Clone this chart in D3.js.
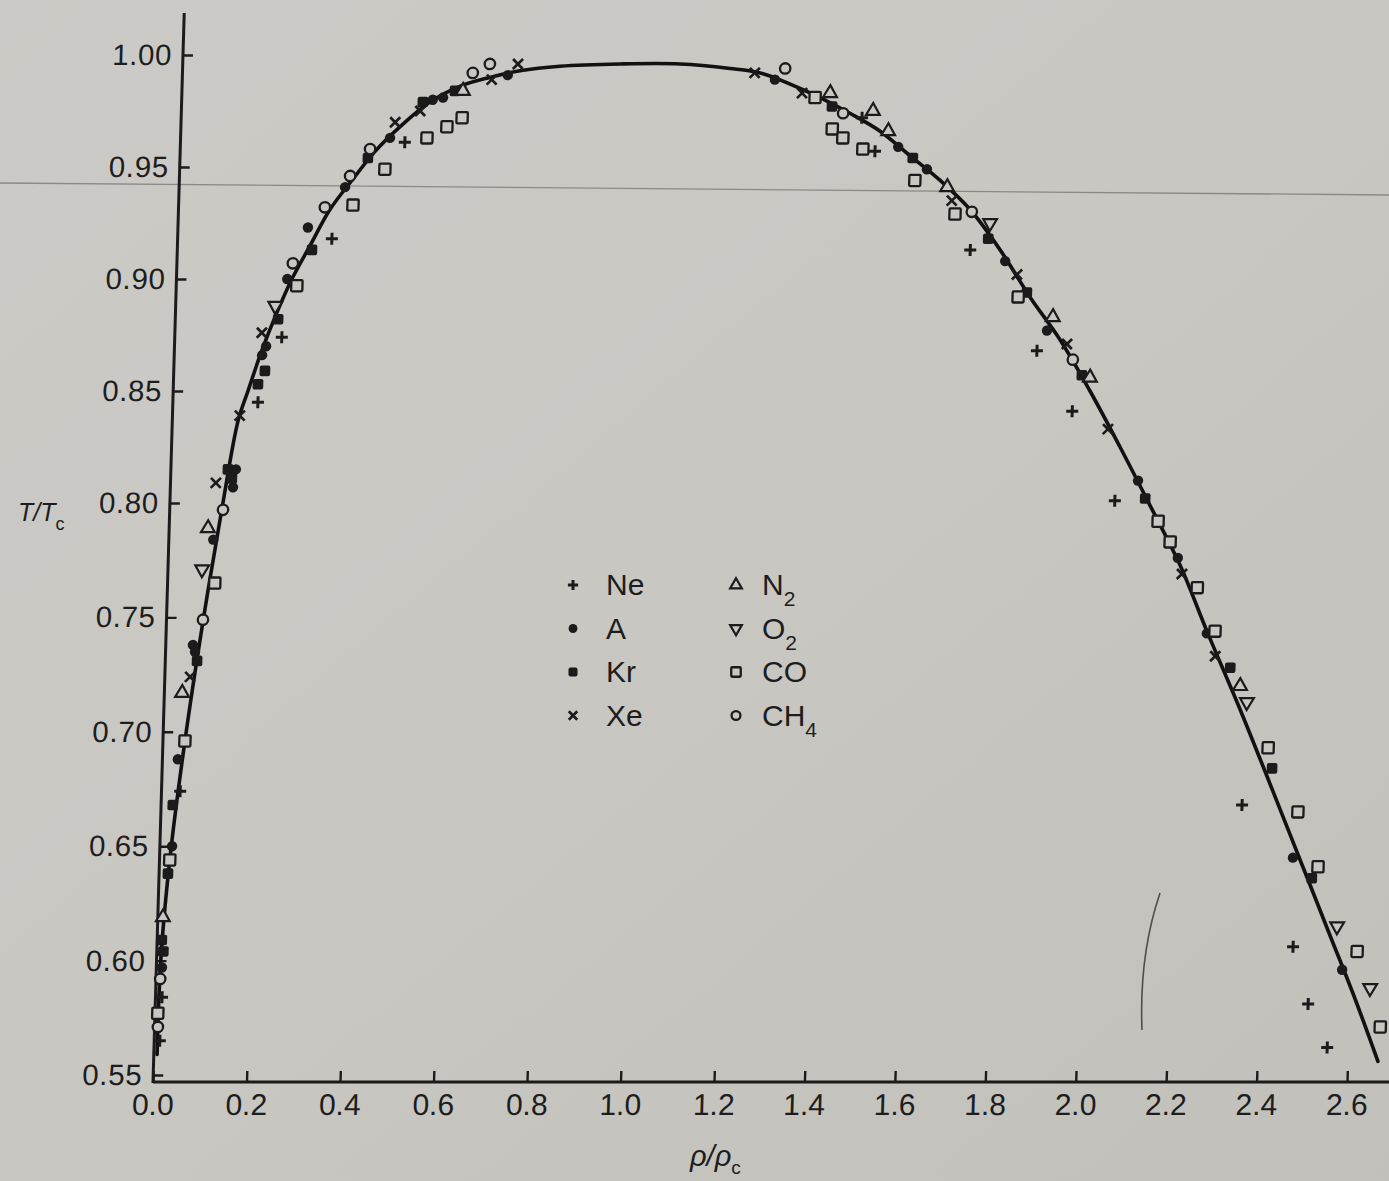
<!DOCTYPE html>
<html>
<head>
<meta charset="utf-8">
<script src="https://cdn.jsdelivr.net/npm/d3@7"></script>
<style>
  html, body { margin: 0; padding: 0; background: #c8c7c2; }
  svg { display: block; }
  text { font-family: "Liberation Sans", Arial, Helvetica, sans-serif; fill: #1d1d1d; }
</style>
</head>
<body>
<svg id="chart" width="1389" height="1181"></svg>
<script>
// Reduced coexistence curve: T/Tc against rho/rho_c for eight simple substances.

const xTicks = [0.0, 0.2, 0.4, 0.6, 0.8, 1.0, 1.2, 1.4, 1.6, 1.8, 2.0, 2.2, 2.4, 2.6];
const yTicks = [0.55, 0.60, 0.65, 0.70, 0.75, 0.80, 0.85, 0.90, 0.95, 1.00];

// Smooth fitted curve through all substances, [rho/rho_c, T/Tc]
const fitCurve = [
  [0.007,0.559],[0.009,0.600],[0.022,0.644],[0.047,0.696],[0.078,0.748],[0.112,0.798],
  [0.141,0.837],[0.160,0.850],[0.187,0.868],[0.215,0.884],[0.247,0.900],[0.284,0.915],
  [0.324,0.931],[0.369,0.944],[0.417,0.957],[0.469,0.968],[0.531,0.979],[0.594,0.986],
  [0.658,0.990],[0.722,0.993],[0.807,0.995],[0.935,0.996],[1.064,0.996],[1.171,0.994],
  [1.237,0.992],[1.304,0.987],[1.371,0.981],[1.438,0.974],[1.506,0.966],[1.574,0.955],
  [1.642,0.944],[1.710,0.931],[1.779,0.913],[1.848,0.892],[1.917,0.873],[1.987,0.850],
  [2.057,0.825],[2.127,0.799],[2.197,0.773],[2.261,0.744],[2.339,0.710],[2.411,0.677],
  [2.482,0.644],[2.553,0.611],[2.613,0.583],[2.667,0.556]
];

// Measured points, [rho/rho_c, T/Tc]
const neon = [
  [0.012,0.565],[0.014,0.584],[0.040,0.674],[0.182,0.845],[0.229,0.874],[0.330,0.918],[0.480,0.961],
  [1.465,0.972],[1.496,0.957],[1.713,0.913],[1.867,0.868],[1.949,0.841],[2.049,0.801],
  [2.350,0.668],[2.472,0.606],[2.509,0.581],[2.554,0.562]
];
const argon = [
  [0.012,0.597],[0.026,0.650],[0.033,0.688],[0.058,0.738],[0.063,0.735],[0.095,0.784],[0.134,0.807],
  [0.139,0.815],[0.188,0.866],[0.196,0.870],[0.237,0.900],[0.278,0.923],[0.355,0.941],[0.448,0.963],
  [0.537,0.980],[0.559,0.981],[0.696,0.991],
  [1.270,0.989],[1.547,0.959],[1.612,0.949],[1.791,0.908],[1.888,0.877],[2.099,0.810],
  [2.192,0.776],[2.261,0.743],[2.466,0.645],[2.582,0.596]
];
const krypton = [
  [0.010,0.609],[0.014,0.604],[0.019,0.638],[0.025,0.668],[0.068,0.731],[0.122,0.815],[0.131,0.811],
  [0.181,0.853],[0.195,0.859],[0.220,0.882],[0.288,0.913],[0.402,0.954],[0.516,0.979],[0.584,0.984],
  [1.398,0.977],[1.580,0.954],[1.752,0.918],[1.841,0.894],[1.968,0.857],[2.116,0.802],
  [2.315,0.728],[2.414,0.684],[2.509,0.636]
];
const xenon = [
  [0.054,0.724],[0.097,0.809],[0.144,0.839],[0.186,0.876],[0.458,0.970],[0.511,0.975],
  [0.662,0.989],[0.717,0.996],
  [1.225,0.992],[1.331,0.983],[1.669,0.935],[1.818,0.902],[1.933,0.871],[2.029,0.833],
  [2.202,0.769],[2.281,0.733]
];
const nitrogen = [
  [0.011,0.619],[0.038,0.717],[0.083,0.789],[0.601,0.984],
  [1.393,0.983],[1.489,0.975],[1.524,0.966],[1.658,0.941],[1.900,0.883],[1.986,0.856],[2.338,0.720]
];
const oxygen = [
  [0.073,0.771],[0.213,0.888],
  [1.755,0.925],[2.354,0.713],[2.568,0.615],[2.645,0.588]
];
const carbonMonoxide = [
  [0.006,0.577],[0.022,0.644],[0.047,0.696],[0.101,0.765],[0.258,0.897],[0.373,0.933],
  [0.439,0.949],[0.527,0.963],[0.569,0.968],[0.601,0.972],
  [1.360,0.981],[1.400,0.967],[1.424,0.963],[1.469,0.958],[1.586,0.944],[1.677,0.929],
  [1.822,0.892],[2.146,0.792],[2.174,0.783],[2.237,0.763],[2.279,0.744],[2.404,0.693],
  [2.474,0.665],[2.522,0.641],[2.614,0.604],[2.670,0.571]
];
const methane = [
  [0.007,0.571],[0.009,0.592],[0.078,0.749],[0.114,0.797],[0.248,0.907],[0.313,0.932],
  [0.365,0.946],[0.406,0.958],[0.621,0.992],[0.657,0.996],
  [1.292,0.994],[1.423,0.974],[1.714,0.930],[1.947,0.864]
];

const substances = [
  { label: "Ne", sub: "",  marker: "plus",   data: neon },
  { label: "A",  sub: "",  marker: "dot",    data: argon },
  { label: "Kr", sub: "",  marker: "block",  data: krypton },
  { label: "Xe", sub: "",  marker: "cross",  data: xenon },
  { label: "N",  sub: "2", marker: "triUp",  data: nitrogen },
  { label: "O",  sub: "2", marker: "triDown",data: oxygen },
  { label: "CO", sub: "",  marker: "square", data: carbonMonoxide },
  { label: "CH", sub: "4", marker: "ring",   data: methane }
];

const W = 1389, H = 1181;
const ink = "#1b1b1b";
const paper = "#c8c7c2";

const svg = d3.select("#chart");

// paper background
const defs = svg.append("defs");
const grad = defs.append("linearGradient").attr("id", "paperGrad")
  .attr("x1", "0").attr("y1", "0").attr("x2", "1").attr("y2", "1");
grad.append("stop").attr("offset", "0").attr("stop-color", "#cbcac6");
grad.append("stop").attr("offset", "0.5").attr("stop-color", "#c8c7c2");
grad.append("stop").attr("offset", "1").attr("stop-color", "#c1c0bb");
svg.append("rect").attr("width", W).attr("height", H).attr("fill", "url(#paperGrad)");

// faint ruled line and pencil stroke on the page
svg.append("path").attr("d", "M0,183 L1389,195")
  .attr("stroke", "#6f6f6b").attr("stroke-width", 1.3).attr("fill", "none").attr("opacity", 0.7);
svg.append("path").attr("d", "M1160,893 Q1139,955 1142,1030")
  .attr("stroke", "#4e4e4c").attr("stroke-width", 1.6).attr("fill", "none");

// scales
const x = d3.scaleLinear().domain([0, 1.2, 2.6]).range([153, 714, 1347]);
const y = d3.scaleLinear().domain([0.55, 0.80, 1.00]).range([1075, 503, 55]);
const baseY = 1082;   // horizontal axis line
const topY = 13;      // top of vertical axis line

// the printed figure leans slightly: a small shear about the horizontal axis
const lean = 0.0292;
const plot = svg.append("g")
  .attr("transform", `translate(${lean * baseY},0) skewX(${-Math.atan(lean) * 180 / Math.PI})`);

// axes
const tickFont = "'Liberation Sans', Arial, sans-serif";
const xAxis = d3.axisBottom(x).tickValues(xTicks).tickFormat(d3.format(".1f"))
  .tickSizeInner(-11).tickSizeOuter(0).tickPadding(12);
const gx = plot.append("g").attr("transform", `translate(0,${baseY})`).call(xAxis);
gx.select(".domain").remove();
gx.selectAll(".tick line").attr("stroke", ink).attr("stroke-width", 2.4);
gx.selectAll(".tick text").attr("font-size", 30).attr("fill", "#1d1d1d").attr("font-family", tickFont);

const yAxis = d3.axisLeft(y).tickValues(yTicks).tickFormat(d3.format(".2f"))
  .tickSizeInner(-10).tickSizeOuter(0).tickPadding(11);
const gy = plot.append("g").attr("transform", `translate(${x(0)},0)`).call(yAxis);
gy.select(".domain").remove();
gy.selectAll(".tick line").attr("stroke", ink).attr("stroke-width", 2.4);
gy.selectAll(".tick text").attr("font-size", 29.5).attr("fill", "#1d1d1d").attr("font-family", tickFont)
  .attr("letter-spacing", 0.6);

plot.append("line").attr("x1", x(0)).attr("x2", W + 40).attr("y1", baseY).attr("y2", baseY)
  .attr("stroke", ink).attr("stroke-width", 3);
plot.append("line").attr("x1", x(0)).attr("x2", x(0)).attr("y1", baseY + 1).attr("y2", topY)
  .attr("stroke", ink).attr("stroke-width", 3);

// fitted curve
const line = d3.line().x(d => x(d[0])).y(d => y(d[1])).curve(d3.curveCatmullRom.alpha(0.5));
plot.append("path").datum(fitCurve).attr("d", line)
  .attr("fill", "none").attr("stroke", "#111").attr("stroke-width", 3.6)
  .attr("stroke-linejoin", "round").attr("stroke-linecap", "round");

// marker drawing
function drawMarker(sel, type, scale) {
  const s = scale || 1;
  if (type === "plus") {
    sel.append("path").attr("d", `M${-6*s},0H${6*s}M0,${-6*s}V${6*s}`)
      .attr("stroke", ink).attr("stroke-width", 3).attr("fill", "none");
  } else if (type === "cross") {
    sel.append("path").attr("d", `M${-5*s},${-5*s}L${5*s},${5*s}M${-5*s},${5*s}L${5*s},${-5*s}`)
      .attr("stroke", ink).attr("stroke-width", 2.7).attr("fill", "none");
  } else if (type === "dot") {
    sel.append("circle").attr("r", 5.2 * s).attr("fill", ink);
  } else if (type === "block") {
    sel.append("rect").attr("x", -5.3*s).attr("y", -5.3*s).attr("width", 10.6*s).attr("height", 10.6*s)
      .attr("rx", 2).attr("fill", ink);
  } else if (type === "triUp" || type === "triDown") {
    sel.append("path").attr("d", d3.symbol(d3.symbolTriangle, 82 * s * s)())
      .attr("transform", type === "triDown" ? "rotate(180)" : null)
      .attr("fill", paper).attr("stroke", ink).attr("stroke-width", 2.2);
  } else if (type === "square") {
    sel.append("rect").attr("x", -5.6*s).attr("y", -5.6*s).attr("width", 11.2*s).attr("height", 11.2*s)
      .attr("rx", 1).attr("fill", paper).attr("stroke", ink).attr("stroke-width", 2.3);
  } else if (type === "ring") {
    sel.append("circle").attr("r", 5.2 * s).attr("fill", paper).attr("stroke", ink).attr("stroke-width", 2.3);
  }
}

// data points
substances.forEach(sp => {
  const g = plot.append("g").attr("class", "series");
  g.selectAll("g.pt").data(sp.data).join("g").attr("class", "pt")
    .attr("transform", d => `translate(${x(d[0])},${y(d[1])})`)
    .each(function () { drawMarker(d3.select(this), sp.marker, 1); });
});

// legend: two columns of four
const legend = svg.append("g");
const rowGap = 43.5;
substances.forEach((sp, i) => {
  const col = Math.floor(i / 4), row = i % 4;
  const base = 595 + row * rowGap;
  const mx = col === 0 ? 573 : 736;
  const tx = col === 0 ? 606 : 762;
  const m = legend.append("g").attr("transform", `translate(${mx},${base - 10})`);
  drawMarker(m, sp.marker, 0.85);
  const t = legend.append("text").attr("x", tx).attr("y", base).attr("font-size", 30).text(sp.label);
  if (sp.sub) {
    t.append("tspan").attr("font-size", 21).attr("dy", 11).text(sp.sub);
  }
});

// axis titles
const yt = svg.append("text").attr("x", 18).attr("y", 521).attr("font-size", 25);
yt.append("tspan").attr("font-style", "italic").text("T/T");
yt.append("tspan").attr("font-size", 18).attr("dy", 9).text("c");

const xt = svg.append("text").attr("x", 690).attr("y", 1166).attr("font-size", 29);
xt.append("tspan").attr("font-style", "italic").text("ρ/ρ");
xt.append("tspan").attr("font-size", 19).attr("dy", 8).text("c");
</script>
</body>
</html>
